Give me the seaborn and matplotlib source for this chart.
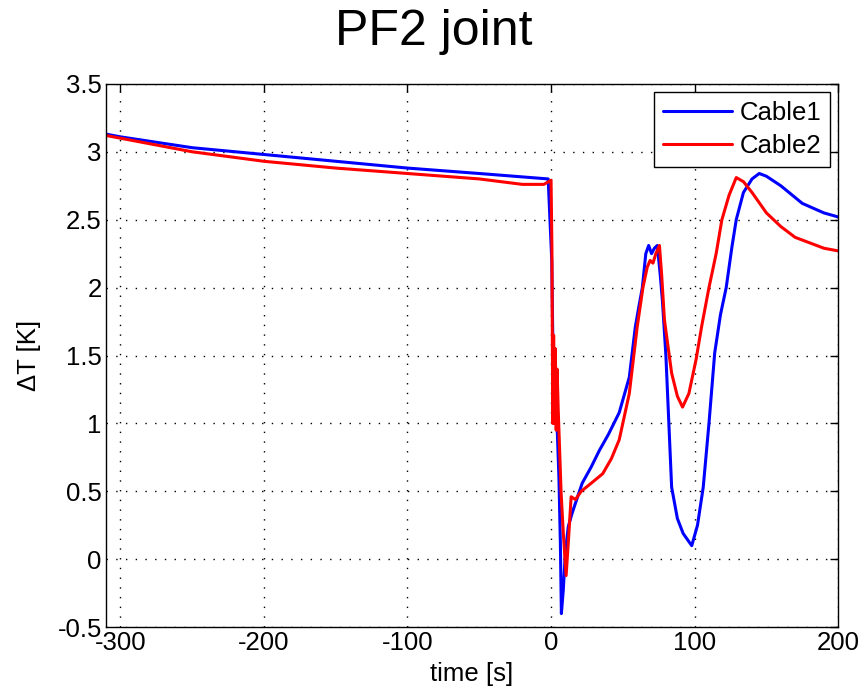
import numpy as np
import pandas as pd
import matplotlib
matplotlib.use("Agg")
import matplotlib.pyplot as plt
import seaborn as sns
from matplotlib.lines import Line2D

# Cable1 (blue)
t1 = [-310, -300, -250, -200, -150, -100, -50, -2, 0.5, 1.5, 2.5, 3.5, 4.5, 5.5, 6.5, 7.2, 8.5, 10, 12, 14.7,
      21.7, 28, 33.6, 40, 47.5, 54.5, 58.7, 61, 63.6, 66, 68, 70, 72, 74, 76, 77.6, 80, 84, 88, 92, 98,
      102, 106, 110, 114, 118, 122, 126, 129, 134, 140, 145, 150, 160, 175, 190, 200]
v1 = [3.13, 3.11, 3.03, 2.98, 2.93, 2.88, 2.84, 2.80, 2.2, 1.4, 1.0, 1.2, 0.9, 0.6, 0.12, -0.40, -0.23, 0.05, 0.24, 0.34,
      0.56, 0.68, 0.80, 0.92, 1.08, 1.34, 1.71, 1.85, 2.0, 2.25, 2.31, 2.25, 2.29, 2.31, 2.1, 1.9, 1.5, 0.53, 0.3, 0.19, 0.10,
      0.25, 0.53, 1.0, 1.52, 1.8, 2.0, 2.3, 2.5, 2.7, 2.8, 2.84, 2.82, 2.75, 2.62, 2.55, 2.52]

# Cable2 (red)
t2 = [-310, -300, -250, -200, -150, -100, -50, -20, -5, 0, 0.6, 1.2, 1.8, 2.4, 3.0, 3.6, 4.2, 5, 7, 8.5,
      10.5, 12, 14, 17, 21, 28, 36, 42, 47.5, 54.5, 60, 64, 67, 69, 71, 73, 75.5, 77, 79, 84, 88, 91.6,
      96, 101, 105, 110, 115, 119, 124, 129, 134, 140, 150, 160, 170, 180, 190, 200]
v2 = [3.12, 3.10, 3.00, 2.93, 2.88, 2.84, 2.80, 2.76, 2.76, 2.79, 2.3, 1.0, 1.65, 1.0, 1.55, 0.95, 1.4, 1.1, 0.49, 0.2,
      -0.12, 0.12, 0.46, 0.44, 0.50, 0.56, 0.63, 0.74, 0.88, 1.22, 1.71, 2.0, 2.15, 2.2, 2.18, 2.25, 2.31, 2.1, 1.76, 1.37, 1.2, 1.12,
      1.22, 1.47, 1.72, 2.0, 2.25, 2.5, 2.68, 2.81, 2.78, 2.7, 2.55, 2.45, 2.37, 2.33, 2.29, 2.27]

series_names = ["Cable1", "Cable2"]
colors = ["#0000ff", "#ff0000"]
x_ticks = [-300, -200, -100, 0, 100, 200]
y_ticks = [-0.5, 0, 0.5, 1, 1.5, 2, 2.5, 3, 3.5]
y_tick_labels = ["-0.5", "0", "0.5", "1", "1.5", "2", "2.5", "3", "3.5"]

df = pd.concat([
    pd.DataFrame({"time": t1, "dT": v1, "cable": series_names[0]}),
    pd.DataFrame({"time": t2, "dT": v2, "cable": series_names[1]}),
], ignore_index=True)

sns.set_style("white")
plt.rcParams['font.family'] = ['Liberation Sans', 'DejaVu Sans']
plt.rcParams['text.color'] = 'black'
plt.rcParams['axes.labelcolor'] = 'black'
plt.rcParams['xtick.color'] = 'black'
plt.rcParams['ytick.color'] = 'black'

fig = plt.figure(figsize=(8.65, 6.93), dpi=100)
ax = fig.add_axes([0.1225, 0.095, 0.8465, 0.784])

sns.lineplot(data=df, x="time", y="dT", hue="cable", palette=dict(zip(series_names, colors)),
             sort=False, estimator=None, linewidth=2.2, ax=ax, legend=False)

ax.set_xlim(-310, 200)
ax.set_ylim(-0.5, 3.5)
ax.set_xticks(x_ticks)
ax.set_xticklabels([str(v) for v in x_ticks])
ax.set_yticks(y_ticks)
ax.set_yticklabels(y_tick_labels)
ax.tick_params(direction='in', length=6, width=1, top=True, right=True, labelsize=18.5, pad=3)
ax.grid(True, color='black', linestyle=(0, (1, 6)), linewidth=1.0)
for s in ax.spines.values():
    s.set_color('black')
    s.set_linewidth(1.0)

ax.set_xlabel("time [s]", fontsize=18.5, labelpad=5)
ax.set_ylabel("ΔT [K]", fontsize=18.5, labelpad=12)
fig.text(0.501, 0.935, "PF2 joint", ha='center', va='baseline', fontsize=36)

handles = [Line2D([], [], color=c, lw=2.2) for c in colors]
leg = ax.legend(handles, series_names, loc='upper right', fontsize=18.5, frameon=True, fancybox=False,
                edgecolor='black', framealpha=1, borderpad=0.35, handlelength=2.7, labelspacing=0.35,
                handletextpad=0.3, borderaxespad=0.3)
leg.get_frame().set_linewidth(1.0)

fig.savefig("out.png", dpi=100)
